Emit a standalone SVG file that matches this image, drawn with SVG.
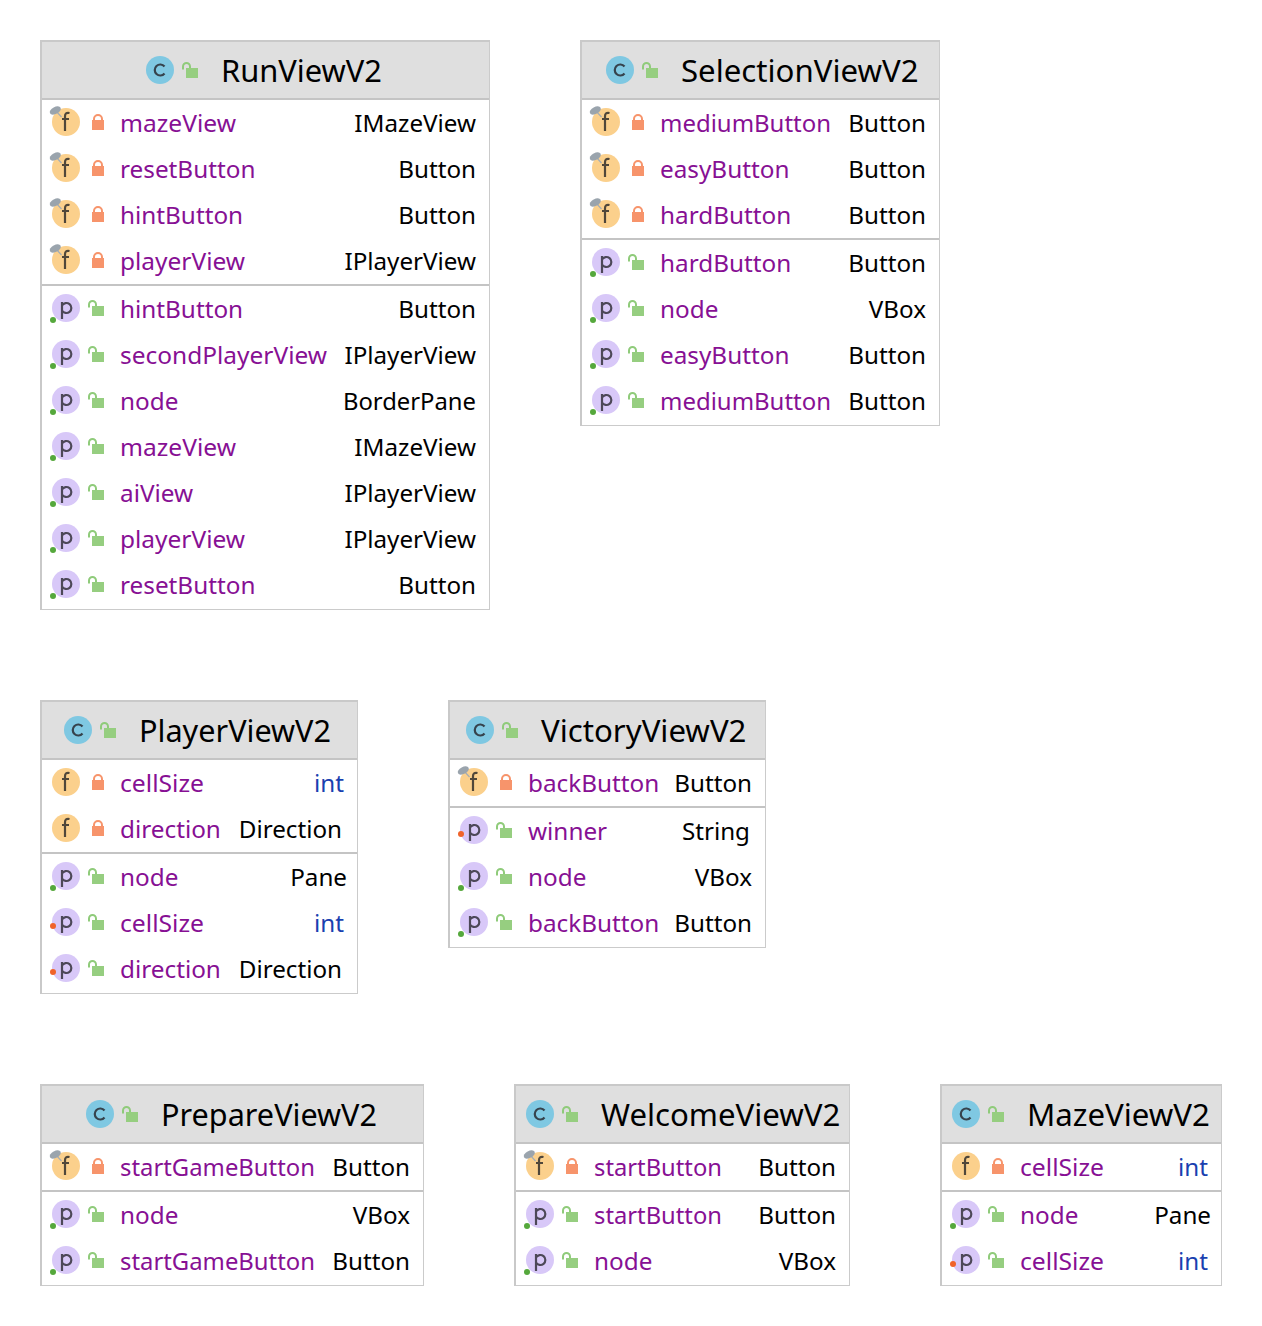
<svg xmlns="http://www.w3.org/2000/svg" width="1262" height="1326" viewBox="0 0 1262 1326">
<style>
text{font-family:"Noto Sans","Open Sans","Liberation Sans",sans-serif}
.box{fill:#fff;stroke:#cbcbcb;stroke-width:1}
.edge{fill:none;stroke:#c9c9c9;stroke-width:2}
.hd{fill:#dfdfdf}
.sep{stroke:#c4c4c4;stroke-width:2}
.t{font-size:31.200px;fill:#000}
.n{font-size:24.300px;fill:#871094}
.y{font-size:24.200px;fill:#000;text-anchor:end}
.b{fill:#1a3fb0}
</style>
<defs>
<g id="c"><circle r="14" fill="#7fc8e2"/><path d="M4.500-3.500A5.500 5.500 0 1 0 4.500 3.500" fill="none" stroke="#36434d" stroke-width="2.200"/></g>
<g id="f"><circle r="14" fill="#fbd08c"/><path d="M3.500-9C0-9.700-1-8-1-5.500V9M-4-3H3" fill="none" stroke="#50473a" stroke-width="2.200"/></g>
<g id="fp"><use href="#f"/><path d="M-10-11L-4.500-5" stroke="#a4adb5" stroke-width="1.200"/><ellipse cx="-10.700" cy="-11.500" rx="6" ry="3.500" transform="rotate(-28 -10.700 -11.500)" fill="#9aa4ad"/></g>
<g id="p"><circle r="14" fill="#d8c8f8"/><path d="M-4 11V-6M-4-2.500A5 5 0 1 1-4 2.500" fill="none" stroke="#4d4858" stroke-width="2.200"/></g>
<g id="pg"><use href="#p"/><circle cx="-13" cy="12" r="3" fill="#55a83c"/></g>
<g id="po"><use href="#p"/><circle cx="-13" cy="4" r="3" fill="#f0632a"/></g>
<g id="l"><path d="M-4-1V-3A4 4 0 0 1 4-3V-1" fill="none" stroke="#f7946b" stroke-width="2"/><rect x="-6" y="-2" width="12" height="10" fill="#f7946b"/></g>
<g id="u"><path d="M-5-0.500V-3.500A3.500 3.500 0 0 1 2-3.500V-2" fill="none" stroke="#8fcb7a" stroke-width="2"/><rect x="-2" y="-2" width="12" height="10" fill="#96ce80"/></g>
</defs>
<g id="connectors"/>
<g id="RunViewV2">
<rect class="box" x="40.500" y="40.500" width="449" height="569"/><rect class="hd" x="42" y="42" width="447" height="56"/><path class="edge" d="M41 610V41H490"/><path class="sep" d="M42 99H489M42 285H489"/>
<use href="#c" x="160" y="70"/><use href="#u" x="188" y="70"/><text class="t" x="221" y="82" textLength="161" lengthAdjust="spacingAndGlyphs">RunViewV2</text>
<use href="#fp" x="66" y="122"/><use href="#l" x="98" y="122"/><text class="n" x="120" y="132" textLength="116" lengthAdjust="spacingAndGlyphs">mazeView</text><text class="y" x="476" y="132">IMazeView</text>
<use href="#fp" x="66" y="168"/><use href="#l" x="98" y="168"/><text class="n" x="120" y="178">resetButton</text><text class="y" x="476" y="178">Button</text>
<use href="#fp" x="66" y="214"/><use href="#l" x="98" y="214"/><text class="n" x="120" y="224">hintButton</text><text class="y" x="476" y="224">Button</text>
<use href="#fp" x="66" y="260"/><use href="#l" x="98" y="260"/><text class="n" x="120" y="270" textLength="125" lengthAdjust="spacingAndGlyphs">playerView</text><text class="y" x="476" y="270">IPlayerView</text>
<use href="#pg" x="66" y="308"/><use href="#u" x="94" y="308"/><text class="n" x="120" y="318">hintButton</text><text class="y" x="476" y="318">Button</text>
<use href="#pg" x="66" y="354"/><use href="#u" x="94" y="354"/><text class="n" x="120" y="364" textLength="207" lengthAdjust="spacingAndGlyphs">secondPlayerView</text><text class="y" x="476" y="364">IPlayerView</text>
<use href="#pg" x="66" y="400"/><use href="#u" x="94" y="400"/><text class="n" x="120" y="410">node</text><text class="y" x="476" y="410" textLength="133" lengthAdjust="spacingAndGlyphs">BorderPane</text>
<use href="#pg" x="66" y="446"/><use href="#u" x="94" y="446"/><text class="n" x="120" y="456" textLength="116" lengthAdjust="spacingAndGlyphs">mazeView</text><text class="y" x="476" y="456">IMazeView</text>
<use href="#pg" x="66" y="492"/><use href="#u" x="94" y="492"/><text class="n" x="120" y="502">aiView</text><text class="y" x="476" y="502">IPlayerView</text>
<use href="#pg" x="66" y="538"/><use href="#u" x="94" y="538"/><text class="n" x="120" y="548" textLength="125" lengthAdjust="spacingAndGlyphs">playerView</text><text class="y" x="476" y="548">IPlayerView</text>
<use href="#pg" x="66" y="584"/><use href="#u" x="94" y="584"/><text class="n" x="120" y="594">resetButton</text><text class="y" x="476" y="594">Button</text>
</g>
<g id="SelectionViewV2">
<rect class="box" x="580.500" y="40.500" width="359" height="385"/><rect class="hd" x="582" y="42" width="357" height="56"/><path class="edge" d="M581 426V41H940"/><path class="sep" d="M582 99H939M582 239H939"/>
<use href="#c" x="620" y="70"/><use href="#u" x="648" y="70"/><text class="t" x="681" y="82">SelectionViewV2</text>
<use href="#fp" x="606" y="122"/><use href="#l" x="638" y="122"/><text class="n" x="660" y="132" textLength="171" lengthAdjust="spacingAndGlyphs">mediumButton</text><text class="y" x="926" y="132">Button</text>
<use href="#fp" x="606" y="168"/><use href="#l" x="638" y="168"/><text class="n" x="660" y="178">easyButton</text><text class="y" x="926" y="178">Button</text>
<use href="#fp" x="606" y="214"/><use href="#l" x="638" y="214"/><text class="n" x="660" y="224">hardButton</text><text class="y" x="926" y="224">Button</text>
<use href="#pg" x="606" y="262"/><use href="#u" x="634" y="262"/><text class="n" x="660" y="272">hardButton</text><text class="y" x="926" y="272">Button</text>
<use href="#pg" x="606" y="308"/><use href="#u" x="634" y="308"/><text class="n" x="660" y="318">node</text><text class="y" x="926" y="318">VBox</text>
<use href="#pg" x="606" y="354"/><use href="#u" x="634" y="354"/><text class="n" x="660" y="364">easyButton</text><text class="y" x="926" y="364">Button</text>
<use href="#pg" x="606" y="400"/><use href="#u" x="634" y="400"/><text class="n" x="660" y="410" textLength="171" lengthAdjust="spacingAndGlyphs">mediumButton</text><text class="y" x="926" y="410">Button</text>
</g>
<g id="PlayerViewV2">
<rect class="box" x="40.500" y="700.500" width="317" height="293"/><rect class="hd" x="42" y="702" width="315" height="56"/><path class="edge" d="M41 994V701H358"/><path class="sep" d="M42 759H357M42 853H357"/>
<use href="#c" x="78" y="730"/><use href="#u" x="106" y="730"/><text class="t" x="139" y="742" textLength="192" lengthAdjust="spacingAndGlyphs">PlayerViewV2</text>
<use href="#f" x="66" y="782"/><use href="#l" x="98" y="782"/><text class="n" x="120" y="792" textLength="84" lengthAdjust="spacingAndGlyphs">cellSize</text><text class="y b" x="344" y="792">int</text>
<use href="#f" x="66" y="828"/><use href="#l" x="98" y="828"/><text class="n" x="120" y="838">direction</text><text class="y" x="342" y="838">Direction</text>
<use href="#pg" x="66" y="876"/><use href="#u" x="94" y="876"/><text class="n" x="120" y="886">node</text><text class="y" x="347" y="886">Pane</text>
<use href="#po" x="66" y="922"/><use href="#u" x="94" y="922"/><text class="n" x="120" y="932" textLength="84" lengthAdjust="spacingAndGlyphs">cellSize</text><text class="y b" x="344" y="932">int</text>
<use href="#po" x="66" y="968"/><use href="#u" x="94" y="968"/><text class="n" x="120" y="978">direction</text><text class="y" x="342" y="978">Direction</text>
</g>
<g id="VictoryViewV2">
<rect class="box" x="448.500" y="700.500" width="317" height="247"/><rect class="hd" x="450" y="702" width="315" height="56"/><path class="edge" d="M449 948V701H766"/><path class="sep" d="M450 759H765M450 807H765"/>
<use href="#c" x="480" y="730"/><use href="#u" x="508" y="730"/><text class="t" x="541" y="742">VictoryViewV2</text>
<use href="#fp" x="474" y="782"/><use href="#l" x="506" y="782"/><text class="n" x="528" y="792">backButton</text><text class="y" x="752" y="792">Button</text>
<use href="#po" x="474" y="830"/><use href="#u" x="502" y="830"/><text class="n" x="528" y="840">winner</text><text class="y" x="750" y="840">String</text>
<use href="#pg" x="474" y="876"/><use href="#u" x="502" y="876"/><text class="n" x="528" y="886">node</text><text class="y" x="752" y="886">VBox</text>
<use href="#pg" x="474" y="922"/><use href="#u" x="502" y="922"/><text class="n" x="528" y="932">backButton</text><text class="y" x="752" y="932">Button</text>
</g>
<g id="PrepareViewV2">
<rect class="box" x="40.500" y="1084.500" width="383" height="201"/><rect class="hd" x="42" y="1086" width="381" height="56"/><path class="edge" d="M41 1286V1085H424"/><path class="sep" d="M42 1143H423M42 1191H423"/>
<use href="#c" x="100" y="1114"/><use href="#u" x="128" y="1114"/><text class="t" x="161" y="1126" textLength="216" lengthAdjust="spacingAndGlyphs">PrepareViewV2</text>
<use href="#fp" x="66" y="1166"/><use href="#l" x="98" y="1166"/><text class="n" x="120" y="1176" textLength="195" lengthAdjust="spacingAndGlyphs">startGameButton</text><text class="y" x="410" y="1176">Button</text>
<use href="#pg" x="66" y="1214"/><use href="#u" x="94" y="1214"/><text class="n" x="120" y="1224">node</text><text class="y" x="410" y="1224">VBox</text>
<use href="#pg" x="66" y="1260"/><use href="#u" x="94" y="1260"/><text class="n" x="120" y="1270" textLength="195" lengthAdjust="spacingAndGlyphs">startGameButton</text><text class="y" x="410" y="1270">Button</text>
</g>
<g id="WelcomeViewV2">
<rect class="box" x="514.500" y="1084.500" width="335" height="201"/><rect class="hd" x="516" y="1086" width="333" height="56"/><path class="edge" d="M515 1286V1085H850"/><path class="sep" d="M516 1143H849M516 1191H849"/>
<use href="#c" x="540" y="1114"/><use href="#u" x="568" y="1114"/><text class="t" x="601" y="1126">WelcomeViewV2</text>
<use href="#fp" x="540" y="1166"/><use href="#l" x="572" y="1166"/><text class="n" x="594" y="1176" textLength="128" lengthAdjust="spacingAndGlyphs">startButton</text><text class="y" x="836" y="1176">Button</text>
<use href="#pg" x="540" y="1214"/><use href="#u" x="568" y="1214"/><text class="n" x="594" y="1224" textLength="128" lengthAdjust="spacingAndGlyphs">startButton</text><text class="y" x="836" y="1224">Button</text>
<use href="#pg" x="540" y="1260"/><use href="#u" x="568" y="1260"/><text class="n" x="594" y="1270">node</text><text class="y" x="836" y="1270">VBox</text>
</g>
<g id="MazeViewV2">
<rect class="box" x="940.500" y="1084.500" width="281" height="201"/><rect class="hd" x="942" y="1086" width="279" height="56"/><path class="edge" d="M941 1286V1085H1222"/><path class="sep" d="M942 1143H1221M942 1191H1221"/>
<use href="#c" x="966" y="1114"/><use href="#u" x="994" y="1114"/><text class="t" x="1027" y="1126">MazeViewV2</text>
<use href="#f" x="966" y="1166"/><use href="#l" x="998" y="1166"/><text class="n" x="1020" y="1176" textLength="84" lengthAdjust="spacingAndGlyphs">cellSize</text><text class="y b" x="1208" y="1176">int</text>
<use href="#pg" x="966" y="1214"/><use href="#u" x="994" y="1214"/><text class="n" x="1020" y="1224">node</text><text class="y" x="1211" y="1224">Pane</text>
<use href="#po" x="966" y="1260"/><use href="#u" x="994" y="1260"/><text class="n" x="1020" y="1270" textLength="84" lengthAdjust="spacingAndGlyphs">cellSize</text><text class="y b" x="1208" y="1270">int</text>
</g>
</svg>
